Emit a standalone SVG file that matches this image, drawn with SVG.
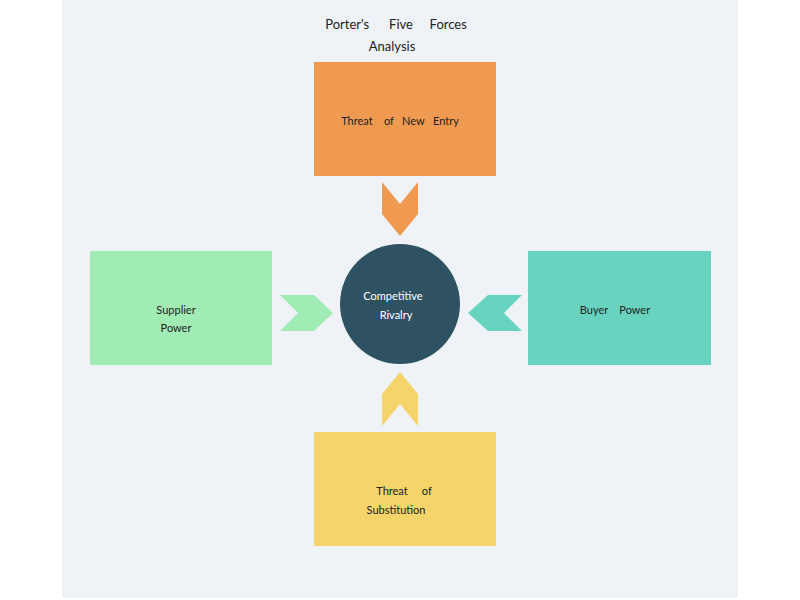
<svg xmlns="http://www.w3.org/2000/svg" width="800" height="600" viewBox="0 0 800 600">
<style>
text{font-family:Lato,"Open Sans","Liberation Sans",sans-serif;font-size:11px;fill:#222;text-anchor:middle;white-space:pre}
.t{font-size:13px}
.w{fill:#fff}
</style>
<rect width="800" height="600" fill="#fff"/>
<rect x="62" y="0" width="676" height="598" fill="#eff3f7"/>
<g id="title"><text class="t" x="396" y="29" xml:space="preserve">Porter's      Five     Forces</text><text class="t" x="392" y="51">Analysis</text></g>
<g id="new-entry"><rect x="314" y="62" width="182" height="114" fill="#ef9a50"/><text x="400" y="125" xml:space="preserve">Threat    of   New   Entry</text></g>
<g id="supplier"><rect x="90" y="251" width="182" height="114" fill="#a0ecb4"/><text x="176" y="314">Supplier</text><text x="176" y="332">Power</text></g>
<g id="buyer"><rect x="528" y="251" width="183" height="114" fill="#68d4c0"/><text x="615" y="314" xml:space="preserve">Buyer    Power</text></g>
<g id="substitution"><rect x="314" y="432" width="182" height="114" fill="#f5d46a"/><text x="404" y="495" xml:space="preserve">Threat     of</text><text x="396" y="514">Substitution</text></g>
<g id="rivalry"><circle cx="400" cy="304" r="60" fill="#2f5263"/><text class="w" x="393" y="300">Competitive</text><text class="w" x="396" y="319">Rivalry</text></g>
<g id="connectors">
<polygon points="382,182 400,204 418,182 418,214 400,236 382,214" fill="#ef9a50"/>
<polygon points="382,426 400,404 418,426 418,394 400,372 382,394" fill="#f5d46a"/>
<polygon points="280,295 314,295 333,313 314,331 280,331 298,313" fill="#a0ecb4"/>
<polygon points="522,295 488,295 468,313 488,331 522,331 504,313" fill="#68d4c0"/>
</g>
</svg>
